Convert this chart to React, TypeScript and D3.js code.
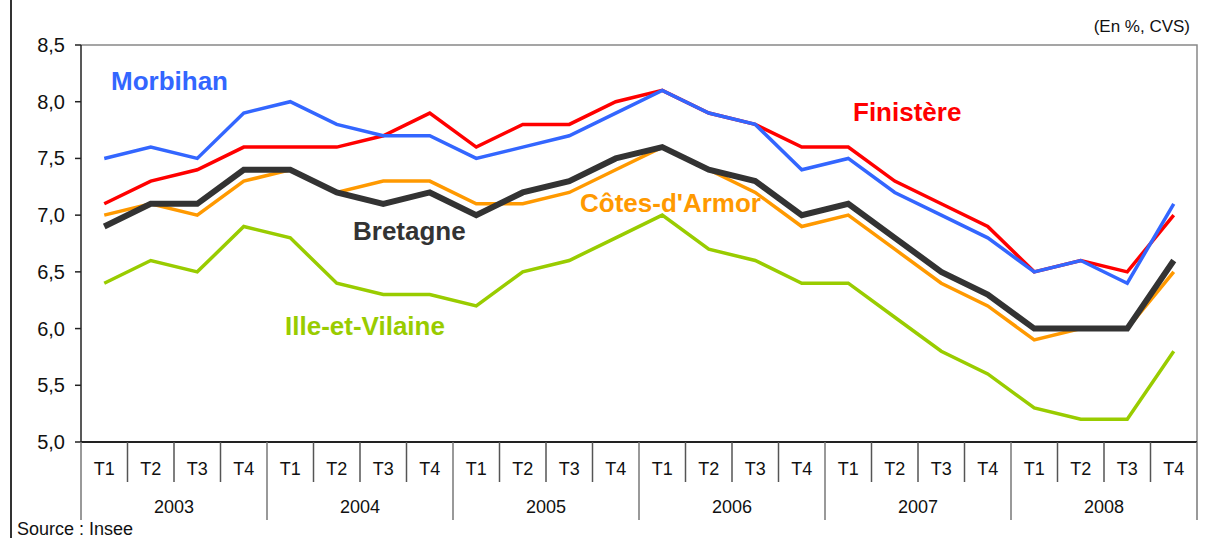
import { useRef, useEffect } from 'react';
import * as d3 from 'd3';

const years = ['2003', '2004', '2005', '2006', '2007', '2008'];
const quarters = ['T1', 'T2', 'T3', 'T4'];
const yTicks = [5.0, 5.5, 6.0, 6.5, 7.0, 7.5, 8.0, 8.5];

const morbihan = [7.5, 7.6, 7.5, 7.9, 8.0, 7.8, 7.7, 7.7, 7.5, 7.6, 7.7, 7.9, 8.1, 7.9, 7.8, 7.4, 7.5, 7.2, 7.0, 6.8, 6.5, 6.6, 6.4, 7.1];
const finistere = [7.1, 7.3, 7.4, 7.6, 7.6, 7.6, 7.7, 7.9, 7.6, 7.8, 7.8, 8.0, 8.1, 7.9, 7.8, 7.6, 7.6, 7.3, 7.1, 6.9, 6.5, 6.6, 6.5, 7.0];
const cotesArmor = [7.0, 7.1, 7.0, 7.3, 7.4, 7.2, 7.3, 7.3, 7.1, 7.1, 7.2, 7.4, 7.6, 7.4, 7.2, 6.9, 7.0, 6.7, 6.4, 6.2, 5.9, 6.0, 6.0, 6.5];
const illeVilaine = [6.4, 6.6, 6.5, 6.9, 6.8, 6.4, 6.3, 6.3, 6.2, 6.5, 6.6, 6.8, 7.0, 6.7, 6.6, 6.4, 6.4, 6.1, 5.8, 5.6, 5.3, 5.2, 5.2, 5.8];
const bretagne = [6.9, 7.1, 7.1, 7.4, 7.4, 7.2, 7.1, 7.2, 7.0, 7.2, 7.3, 7.5, 7.6, 7.4, 7.3, 7.0, 7.1, 6.8, 6.5, 6.3, 6.0, 6.0, 6.0, 6.6];

const series = [
  { name: 'Ille-et-Vilaine', values: illeVilaine, color: '#99CC00', width: 3.5, label: [285, 335] },
  { name: "Côtes-d'Armor", values: cotesArmor, color: '#FF9900', width: 3.5, label: [580, 212] },
  { name: 'Finistère', values: finistere, color: '#FF0000', width: 3.5, label: [853, 121] },
  { name: 'Morbihan', values: morbihan, color: '#3366FF', width: 3.5, label: [111, 90] },
  { name: 'Bretagne', values: bretagne, color: '#333333', width: 6, label: [353, 240] },
];

const W = 1208;
const H = 538;
const left = 81;
const right = 1197;
const top = 45;
const bottom = 442;

export default function App() {
  const ref = useRef<SVGSVGElement>(null);

  useEffect(() => {
    if (!ref.current) return;
    const svg = d3.select(ref.current);
    svg.selectAll('*').remove();

    const keys = years.flatMap((y) => quarters.map((q) => `${y}-${q}`));
    const x = d3.scaleBand().domain(keys).range([left, right]);
    const y = d3.scaleLinear().domain([5, 8.5]).range([bottom, top]);
    const font = 'Liberation Sans, Arial, sans-serif';

    // outer frame line on the left
    svg.append('line')
      .attr('x1', 11).attr('x2', 11).attr('y1', 0).attr('y2', H)
      .attr('stroke', '#333').attr('stroke-width', 2);

    // plot border (top/right)
    svg.append('path')
      .attr('d', `M${left},${top}H${right}V${bottom}`)
      .attr('fill', 'none').attr('stroke', '#888').attr('stroke-width', 1.5);

    // y axis
    const yAxis = svg.append('g');
    yAxis.append('line')
      .attr('x1', left).attr('x2', left).attr('y1', top).attr('y2', bottom)
      .attr('stroke', '#222').attr('stroke-width', 1.5);
    yTicks.forEach((t) => {
      yAxis.append('line')
        .attr('x1', left - 6).attr('x2', left).attr('y1', y(t)).attr('y2', y(t))
        .attr('stroke', '#222').attr('stroke-width', 1.5);
      yAxis.append('text')
        .attr('x', left - 16).attr('y', y(t)).attr('dy', '0.35em')
        .attr('text-anchor', 'end')
        .attr('font-family', font).attr('font-size', 20).attr('fill', '#111')
        .text(d3.format('.1f')(t).replace('.', ','));
    });

    // x axis
    const xAxis = svg.append('g');
    xAxis.append('line')
      .attr('x1', left).attr('x2', right).attr('y1', bottom).attr('y2', bottom)
      .attr('stroke', '#222').attr('stroke-width', 2);
    keys.forEach((k, i) => {
      const x0 = x(k)!;
      const isYear = i % 4 === 0;
      xAxis.append('line')
        .attr('x1', x0).attr('x2', x0).attr('y1', bottom).attr('y2', isYear ? 520 : 482)
        .attr('stroke', isYear ? '#777' : '#555').attr('stroke-width', 1.5);
      xAxis.append('text')
        .attr('x', x0 + x.bandwidth() / 2).attr('y', 469).attr('dy', '0.35em')
        .attr('text-anchor', 'middle')
        .attr('font-family', font).attr('font-size', 18).attr('fill', '#111')
        .text(quarters[i % 4]);
    });
    xAxis.append('line')
      .attr('x1', right).attr('x2', right).attr('y1', bottom).attr('y2', 520)
      .attr('stroke', '#777').attr('stroke-width', 1.5);
    years.forEach((yr) => {
      const x0 = x(`${yr}-T1`)!;
      xAxis.append('text')
        .attr('x', x0 + x.bandwidth() * 2).attr('y', 507).attr('dy', '0.35em')
        .attr('text-anchor', 'middle')
        .attr('font-family', font).attr('font-size', 18).attr('fill', '#111')
        .text(yr);
    });

    // lines
    const line = d3.line<number>()
      .x((_, i) => x(keys[i])! + x.bandwidth() / 2)
      .y((d) => y(d));

    series.forEach((s) => {
      svg.append('path')
        .datum(s.values)
        .attr('d', line)
        .attr('fill', 'none')
        .attr('stroke', s.color)
        .attr('stroke-width', s.width)
        .attr('stroke-linejoin', 'miter');
    });

    series.forEach((s) => {
      svg.append('text')
        .attr('x', s.label[0]).attr('y', s.label[1])
        .attr('font-family', font).attr('font-size', 26).attr('font-weight', 'bold')
        .attr('fill', s.color)
        .text(s.name);
    });

    svg.append('text')
      .attr('x', 1190).attr('y', 32)
      .attr('text-anchor', 'end')
      .attr('font-family', font).attr('font-size', 17).attr('fill', '#111')
      .text('(En %, CVS)');

    svg.append('text')
      .attr('x', 17).attr('y', 535)
      .attr('font-family', font).attr('font-size', 18).attr('fill', '#111')
      .text('Source : Insee');
  }, []);

  return (
    <svg
      ref={ref}
      width={W}
      height={H}
      style={{ position: 'absolute', left: 0, top: 0, background: '#fff' }}
    />
  );
}
